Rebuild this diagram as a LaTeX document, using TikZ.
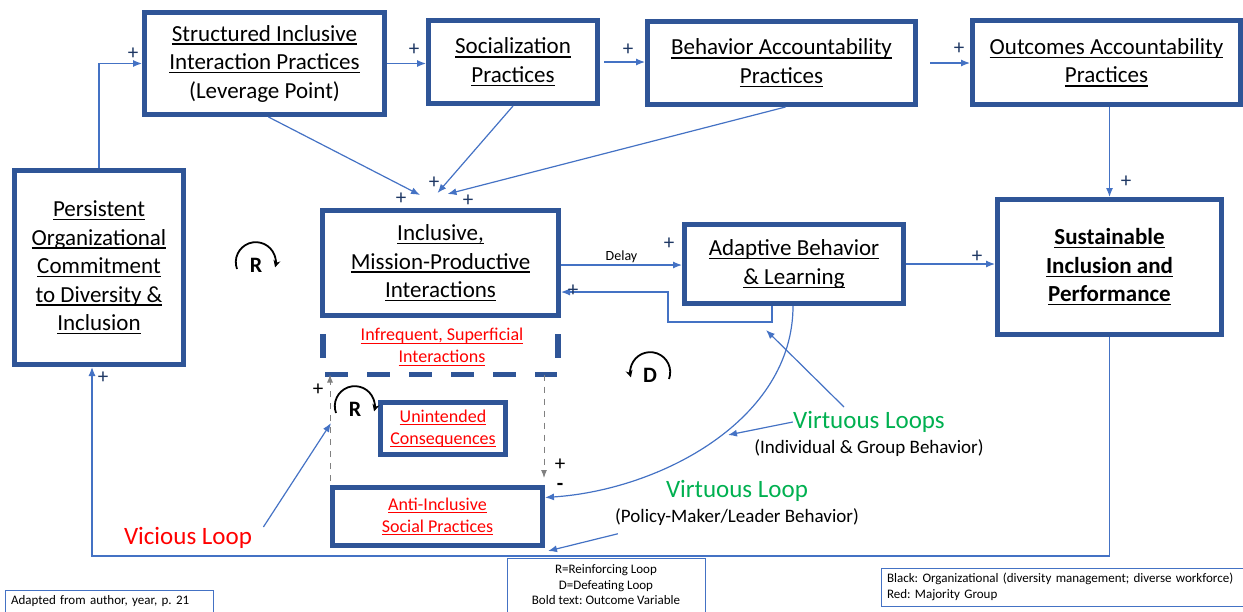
\documentclass[tikz,border=0pt]{standalone}
\usepackage{fontspec}
\setmainfont{Carlito}
\usetikzlibrary{calc}
\usetikzlibrary{positioning}
\usetikzlibrary{arrows.meta}

\definecolor{boxblue}{HTML}{2F5597}
\definecolor{linkblue}{HTML}{4472C4}
\definecolor{vgreen}{HTML}{00B050}
\definecolor{signnavy}{HTML}{1F3864}

\newsavebox\ulbox
\newcommand{\uln}[1]{\sbox\ulbox{#1}\rlap{\rule[-0.16em]{\wd\ulbox}{0.06em}}\usebox\ulbox}
\frenchspacing

\begin{document}
\begin{tikzpicture}[x=0.5pt,y=-0.5pt,
  box/.style={draw=boxblue,line width=2.5pt,align=center,inner sep=0pt,font=\fontsize{11.5}{14.25}\selectfont},
  redbox/.style={box,line width=2.2pt,text=red,font=\fontsize{9}{11}\selectfont},
  link/.style={draw=linkblue,line width=0.6pt,-{Latex[length=4.5pt,width=3.5pt]}},
  gap/.style={draw=gray,line width=0.5pt,dashed,-{Latex[length=4pt,width=3pt]}},
  sign/.style={text=signnavy,font=\fontsize{10.5}{10}\selectfont,inner sep=0pt},
  loopmark/.style={font=\bfseries\fontsize{11}{11}\selectfont,inner sep=0pt},
  looparc/.style={line width=0.9pt,-{Stealth[length=3.5pt,width=3.5pt]}},
  big/.style={font=\fontsize{12.5}{14}\selectfont,inner sep=0pt},
  small/.style={font=\fontsize{9.5}{11}\selectfont,inner sep=0pt},
  legend/.style={draw=linkblue,line width=0.5pt,font=\fontsize{6.5}{7.75}\selectfont,inner sep=2pt},
]
\useasboundingbox (0,0) rectangle (1243,611);

% practices along the top
\node[box,minimum width=120pt,minimum height=51pt] (siip) at (264.5,63.5) {\uln{Structured Inclusive}\\\uln{Interaction Practices}\\(Leverage Point)};
\node[box,minimum width=84.5pt,minimum height=41.5pt] (soc) at (513,62) {\uln{Socialization}\\\uln{Practices}};
\node[box,minimum width=134pt,minimum height=41.5pt] (bap) at (781.5,63) {\uln{Behavior Accountability}\\\uln{Practices}};
\node[box,minimum width=134pt,minimum height=42pt] (oap) at (1106.5,62.5) {\uln{Outcomes Accountability}\\\uln{Practices}};

% middle row
\node[box,minimum width=84.5pt,minimum height=97pt] (pers) at (99,267.5) {\uln{Persistent}\\\uln{Organizational}\\\uln{Commitment}\\\uln{to Diversity \&}\\\uln{Inclusion}};
\node[box,minimum width=118pt,minimum height=52.5pt] (imp) at (440.5,263) {\uln{Inclusive,}\\\uln{Mission-Productive}\\\uln{Interactions}};
\node[box,minimum width=109.5pt,minimum height=39.5pt] (abl) at (794,264) {\uln{Adaptive Behavior}\\\uln{\& Learning}};
\node[box,minimum width=112pt,minimum height=67.5pt,font=\bfseries\fontsize{11.5}{14.25}\selectfont] (sip) at (1109.5,267) {\uln{Sustainable}\\\uln{Inclusion and}\\\uln{Performance}};

% majority group side
\node[align=center,text=red,font=\fontsize{9}{11}\selectfont,inner sep=0pt] (isi) at (442,347) {\uln{Infrequent, Superficial}\\\uln{Interactions}};
\draw[boxblue,line width=2.8pt] ($(imp.south west)+(3,16)$) -- ++(0,24);
\draw[boxblue,line width=2.8pt] ($(imp.south east)+(-3,16)$) -- ++(0,24);
\coordinate (isib) at ($(imp.south west)+(5,56.5)$);
\draw[boxblue,line width=2.8pt,dash pattern=on 11.5pt off 9.5pt] (isib) -- ++(232,0);
\node[redbox,minimum width=62.5pt,minimum height=26pt] (unc) at (443,428.5) {\uln{Unintended}\\\uln{Consequences}};
\node[redbox,line width=2.5pt,minimum width=105pt,minimum height=29pt] (aisp) at (437.5,516.5) {\uln{Anti-Inclusive}\\\uln{Social Practices}};

% loop labels
\node[big,text=vgreen] (vl1) at (869,422) {Virtuous Loops};
\node[small,below=3pt of vl1] (vl1s) {(Individual \& Group Behavior)};
\node[big,text=vgreen] (vl2) at (737,491) {Virtuous Loop};
\node[small,below=3pt of vl2] (vl2s) {(Policy-Maker/Leader Behavior)};
\node[big,text=red] (vic) at (188,538) {Vicious Loop};

% connectors
\draw[link] (pers.north) |- (siip.west);
\draw[link] (siip.east) -- (soc.west |- siip.east);
\draw[link] ([xshift=2pt]soc.east) -- (bap.west |- soc.east);
\draw[link] ([xshift=6pt]bap.east) -- (oap.west |- bap.east);
\draw[link] (sip.north |- oap.south) -- (sip.north);

\coordinate (t1) at ($(imp.north)+(-20.5,-13)$);
\coordinate (t2) at ($(imp.north)+(-3,-15)$);
\coordinate (t3) at ($(imp.north)+(7,-14)$);
\draw[link] ([xshift=2pt]siip.south) -- (t1);
\draw[link] (soc.south) -- (t2);
\draw[link] ([xshift=2pt]bap.south) -- (t3);

\draw[link] ([yshift=-1pt]imp.east) -- (abl.west |- 0,265) node[midway,above=1pt,font=\fontsize{7}{7}\selectfont,inner sep=0pt] {Delay};
\draw[link] ($(abl.south)+(-22,0)$) -- ++(0,16) -| ($(imp.east)+(107,29)$) -- ($(imp.east)+(0,29)$);
\draw[link] (abl.east) -- (sip.west |- abl.east);

\coordinate (bl) at (92,556);
\draw[link] (sip.south) |- (bl) -- (bl |- pers.south);

\draw[link] ($(abl.south)+(-1,0)$) .. controls (793,420) and (660,490) .. ($(aisp.east)+(0,-19)$);

\coordinate (gl) at ($(aisp.north west)+(0,-4)$);
\coordinate (gr) at ($(aisp.north east)+(-1,-7)$);
\draw[gap] (gl) -- (gl |- isib);
\draw[gap] (gr |- isib) -- (gr);

\coordinate (fbtip) at (766,330);
\coordinate (cvtip) at (728,435);
\coordinate (pmtip) at (548,551);
\coordinate (vctip) at (331,423);
\draw[link] ($(vl1.north)+(-25,-4)$) -- (fbtip);
\draw[link] (vl1.west) -- (cvtip);
\draw[link] ($(vl2s.south west)+(3,8)$) -- (pmtip);
\draw[link] ($(vic.east)+(11,-11)$) -- (vctip);

% polarity signs
\node[sign] at (133,54) {+};
\node[sign] at (414,50) {+};
\node[sign] at (628,50) {+};
\node[sign] at (959,49) {+};
\node[sign] at (1126,182) {+};
\node[sign] at (401,199) {+};
\node[sign] at (434,183) {+};
\node[sign] at (468,201) {+};
\node[sign] at (669,244) {+};
\node[sign] at (573,291) {+};
\node[sign] at (977,257) {+};
\node[sign] at (103,378) {+};
\node[sign,text=black] at (318,390) {+};
\node[sign,text=black] at (560,465) {+};
\node[sign,text=black] at (560,487) {\textbf{-}};

% loop markers
\node[loopmark] (r1) at (256,265) {R};
\draw[looparc] ([shift={(-9.5pt,-2pt)}]r1.center) arc[start angle=200,end angle=-15,radius=10pt];
\node[loopmark] (d1) at (650,375) {D};
\draw[looparc] ([shift={(9.5pt,-2pt)}]d1.center) arc[start angle=-20,end angle=195,radius=10pt];
\node[loopmark] (r2) at (355,409) {R};
\draw[looparc] ([shift={(-9.5pt,-2pt)}]r2.center) arc[start angle=200,end angle=-15,radius=10pt];

% legends
\node[legend,minimum width=104pt,minimum height=11pt,text width=98pt,align=left] (src) at (109,601) {Adapted from author, year, p. 21};
\node[legend,minimum width=99pt,minimum height=27pt,align=center] (key) at (606,585) {R=Reinforcing Loop\\D=Defeating Loop\\Bold text: Outcome Variable};
\node[legend,minimum width=181pt,minimum height=19pt,text width=175pt,align=left] (cols) at (1062,587) {Black: Organizational (diversity management; diverse workforce)\\Red: Majority Group};
\end{tikzpicture}
\end{document}
